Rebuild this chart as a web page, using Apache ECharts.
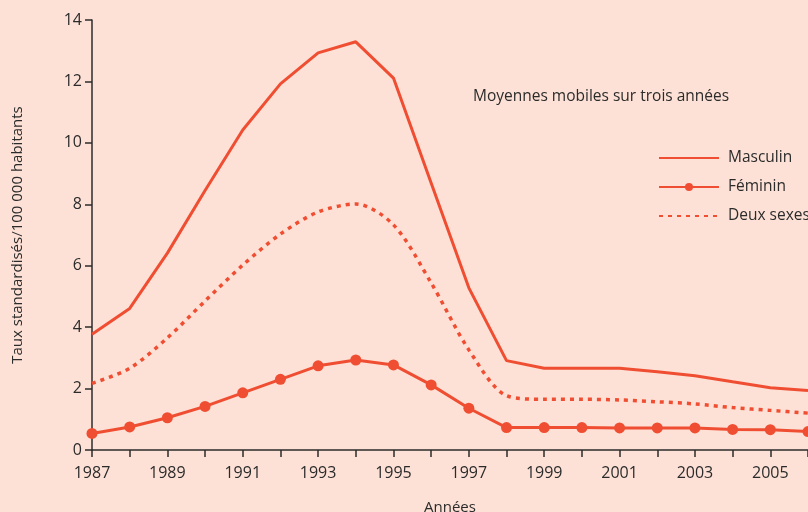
<!DOCTYPE html>
<html>
<head>
<meta charset="utf-8">
<script src="https://cdn.jsdelivr.net/npm/echarts@6/dist/echarts.min.js"></script>
<style>
  html, body { margin: 0; padding: 0; background: #fde1d6; }
  #chart { width: 808px; height: 512px; }
</style>
</head>
<body>
<div id="chart"></div>
<script>
// années
var years = ['1987','1988','1989','1990','1991','1992','1993','1994','1995','1996',
             '1997','1998','1999','2000','2001','2002','2003','2004','2005','2006'];
var masculin = [3.77, 4.61, 6.41, 8.45, 10.42, 11.92, 12.93, 13.29, 12.11, 8.69,
                5.28, 2.91, 2.66, 2.66, 2.66, 2.55, 2.42, 2.22, 2.03, 1.94];
var feminin = [0.54, 0.75, 1.05, 1.42, 1.86, 2.30, 2.74, 2.93, 2.77, 2.12,
               1.36, 0.73, 0.73, 0.73, 0.72, 0.72, 0.72, 0.67, 0.66, 0.60];
var deuxSexes = [2.17, 2.66, 3.65, 4.85, 6.02, 7.03, 7.75, 8.01, 7.33, 5.44,
                 3.26, 1.77, 1.65, 1.65, 1.63, 1.57, 1.50, 1.38, 1.29, 1.20];
var yTicks = [0, 2, 4, 6, 8, 10, 12, 14];

var rouge = '#f04e32';
var texte = '#2b2b2b';
var police = 'Open Sans';

var chart = echarts.init(document.getElementById('chart'));

var option = {
  backgroundColor: '#fde1d6',
  textStyle: { fontFamily: police },
  title: {
    text: 'Moyennes mobiles sur trois années',
    left: 468,
    top: 84,
    textStyle: { fontSize: 15.5, fontWeight: 'normal', color: texte, fontFamily: police }
  },
  legend: {
    orient: 'vertical',
    left: 653,
    top: 145,
    itemWidth: 60,
    itemHeight: 10,
    itemGap: 13,
    textStyle: { fontSize: 15.5, color: texte, fontFamily: police, padding: [0, 0, 0, 4] },
    data: [
      { name: 'Masculin', itemStyle: { opacity: 0 } },
      { name: 'Féminin' },
      { name: 'Deux sexes', itemStyle: { opacity: 0 } }
    ]
  },
  grid: { left: 92, right: 0, top: 20, bottom: 62, containLabel: false, outerBoundsMode: 'none' },
  xAxis: {
    type: 'category',
    data: years,
    boundaryGap: false,
    name: 'Années',
    nameLocation: 'middle',
    nameGap: 50,
    nameTextStyle: { fontSize: 15, color: texte },
    axisLine: { lineStyle: { color: texte, width: 1.5 } },
    axisTick: { interval: 0, length: 7, lineStyle: { color: texte, width: 1.5 } },
    axisLabel: { interval: 1, fontSize: 16, color: texte, margin: 15 },
    splitLine: { show: false }
  },
  yAxis: {
    type: 'value',
    min: yTicks[0],
    max: yTicks[yTicks.length - 1],
    interval: 2,
    name: 'Taux standardisés/100 000 habitants',
    nameLocation: 'middle',
    nameGap: 67,
    nameTextStyle: { fontSize: 15, color: texte },
    axisLine: { show: true, lineStyle: { color: texte, width: 1.5 } },
    axisTick: { show: true, length: 7, lineStyle: { color: texte, width: 1.5 } },
    axisLabel: { fontSize: 16, color: texte, margin: 10 },
    splitLine: { show: false }
  },
  series: [
    {
      name: 'Masculin',
      type: 'line',
      data: masculin,
      symbol: 'none',
      lineStyle: { color: rouge, width: 3 },
      itemStyle: { color: rouge }
    },
    {
      name: 'Féminin',
      type: 'line',
      data: feminin,
      symbol: 'circle',
      symbolSize: 11,
      lineStyle: { color: rouge, width: 3 },
      itemStyle: { color: rouge }
    },
    {
      name: 'Deux sexes',
      type: 'line',
      data: deuxSexes,
      symbol: 'none',
      smooth: 0.3,
      lineStyle: { color: rouge, width: 3.5, type: [4, 5] },
      itemStyle: { color: rouge }
    }
  ]
};

chart.setOption(option);
</script>
</body>
</html>
